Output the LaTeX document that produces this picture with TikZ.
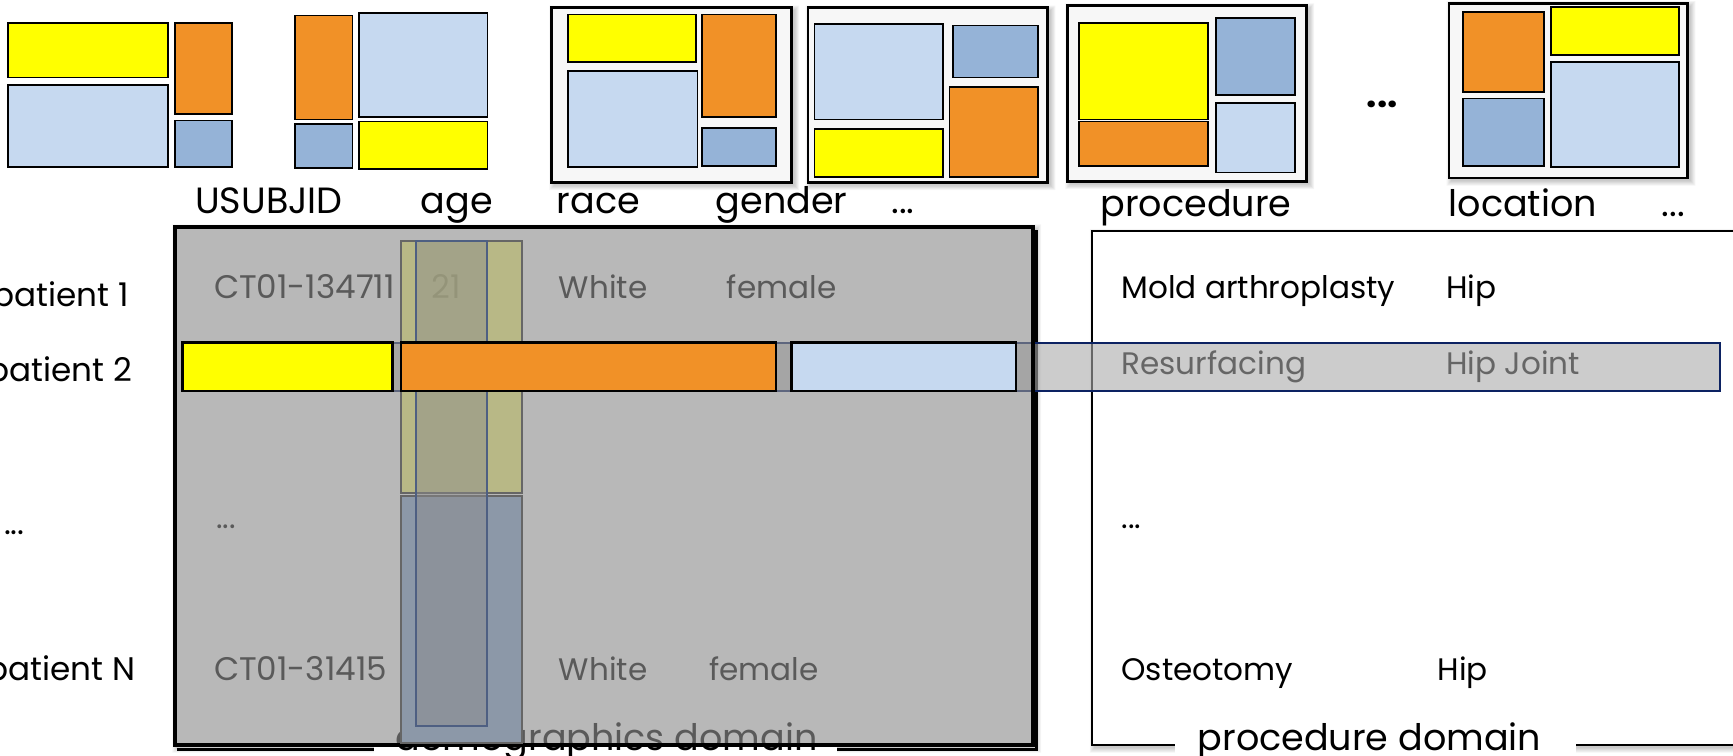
\documentclass[tikz,border=0pt]{standalone}
\usepackage{fontspec}
\setmainfont{Poppins}
\definecolor{cyel}{HTML}{FFFF00}
\definecolor{corg}{HTML}{F19127}
\definecolor{clb}{HTML}{C6D9F0}
\definecolor{cmb}{HTML}{95B3D7}
\definecolor{cnavy}{HTML}{0C2262}
\definecolor{colive}{HTML}{B9B972}
\definecolor{cslate}{HTML}{8C98A8}
\definecolor{cboxg}{HTML}{8F8F8F}
\definecolor{cband}{HTML}{AAAAAA}
\definecolor{cframe}{HTML}{F7F7F7}
\definecolor{cinner}{HTML}{4E5F82}
\newcommand\hdrfont{\fontsize{9.4}{11}\selectfont}
\newcommand\bdyfont{\fontsize{8.0}{10}\selectfont}
\newcommand\idfont{\fontsize{8.4}{10}\selectfont}
\newcommand\softsh[4]{\foreach \k in {0,...,4}{\fill[black,opacity=0.045,even odd rule] ({#1+2-\k},{#2+2-\k}) rectangle ({#3+3+\k},{#4+3+\k}) (#1,#2) rectangle (#3,#4);}}
\begin{document}
\begin{tikzpicture}[x=0.01cm,y=-0.01cm,
 cell/.style={draw=black,line width=0.45pt},
 yel/.style={cell,fill=cyel}, org/.style={cell,fill=corg},
 lb/.style={cell,fill=clb}, mb/.style={cell,fill=cmb},
 iframe/.style={draw=black,line width=0.7pt,fill=cframe},
 hdr/.style={font=\hdrfont,anchor=base west,inner sep=0pt},
 bdy/.style={font=\bdyfont,anchor=base west,inner sep=0pt},
 idtxt/.style={font=\idfont,anchor=base west,inner sep=0pt},
 bar/.style={draw=black,line width=0.6pt}]
\useasboundingbox (0,0) rectangle (1568,684);
\clip (0,0) rectangle (1568,684);
\fill[white] (0,0) rectangle (1568,684);
% icon 1
\draw[yel] (7,21) rectangle (152,70);
\draw[lb] (7,77) rectangle (152,151);
\draw[org] (158,21) rectangle (210,103);
\draw[mb] (158,109) rectangle (210,151);
% icon 2
\draw[org] (267,14) rectangle (319,108);
\draw[lb] (325,12) rectangle (441,106);
\draw[mb] (267,112) rectangle (319,152);
\draw[yel] (325,110) rectangle (441,153);
% icon 3
\softsh{499}{7}{716}{165}
\draw[iframe] (499,7) rectangle (716,165);
\draw[yel] (514,13) rectangle (630,56);
\draw[lb] (514,64) rectangle (631,151);
\draw[org] (635,13) rectangle (702,106);
\draw[mb] (635,116) rectangle (702,150);
% icon 4
\softsh{731}{7}{948}{165}
\draw[iframe] (731,7) rectangle (948,165);
\draw[lb] (737,22) rectangle (853,108);
\draw[mb] (862,23) rectangle (939,70);
\draw[yel] (737,117) rectangle (853,160);
\draw[org] (859,79) rectangle (939,160);
% icon 5
\softsh{966}{5}{1182}{164}
\draw[iframe] (966,5) rectangle (1182,164);
\draw[yel] (976,21) rectangle (1093,108);
\draw[org] (976,110) rectangle (1093,150);
\draw[mb] (1100,16) rectangle (1172,86);
\draw[lb] (1100,93) rectangle (1172,156);
\node (dotsmid) [hdr,font=\hdrfont\bfseries] at (1236,97) {...};
% icon 6
\softsh{1311}{3}{1527}{161}
\draw[iframe] (1311,3) rectangle (1527,161);
\draw[org] (1324,11) rectangle (1397,83);
\draw[yel] (1403,6) rectangle (1519,50);
\draw[lb] (1403,56) rectangle (1519,151);
\draw[mb] (1324,89) rectangle (1397,150);
% header labels
\node (hUSUBJID) [hdr] at (176,193) {USUBJID};
\node (hage) [hdr] at (380,193) {age};
\node (hrace) [hdr] at (503,193) {race};
\node (hgender) [hdr] at (647,193) {gender};
\node (hdots1) [hdr] at (806,193) {...};
\node (hproc) [hdr] at (995,196) {procedure};
\node (hloc) [hdr] at (1310,196) {location};
\node (hdots2) [hdr] at (1503,196) {...};
% left labels
\node (p1) [idtxt,anchor=base east] at (117,277) {patient 1};
\node (p2) [idtxt,anchor=base east] at (120,345) {patient 2};
\node (pdots) [idtxt] at (3,484) {...};
\node (pN) [idtxt,anchor=base east] at (123,616) {patient N};
% procedure box
\softsh{988}{209}{1575}{674}
\draw[line width=0.6pt,fill=white] (988,209) rectangle (1575,674);
\node (pr1a) [bdy] at (1014,270) {Mold arthroplasty};
\node (pr1b) [bdy] at (1308,270) {Hip};
\node (pr2a) [bdy] at (1014,339) {Resurfacing};
\node (pr2b) [bdy] at (1308,339) {Hip Joint};
\node (prdots) [bdy] at (1014,478) {...};
\node (prNa) [bdy] at (1014,616) {Osteotomy};
\node (prNb) [bdy] at (1300,616) {Hip};
% demographics texts
\node (d1a) [idtxt] at (193,270) {CT01-134711};
\node (d1b) [idtxt] at (390,270) {21};
\node (d1c) [bdy] at (505,270) {White};
\node (d1d) [bdy] at (657,270) {female};
\node (ddots) [bdy] at (195,478) {...};
\node (dNa) [idtxt] at (193,616) {CT01-31415};
\node (dNc) [bdy] at (505,616) {White};
\node (dNd) [bdy] at (641,616) {female};
% demographics box shadow
\softsh{158}{205}{935}{674}
\draw[line width=0.8pt] (160,678) -- (938,678) -- (938,208);
\fill[white] (338,640) rectangle (757,690);
\node (demolab) [hdr] at (357,679) {demographics domain};
% patient 2 band
\fill[cband,opacity=0.6] (165,310.5) rectangle (1556.5,353.5);
\draw[cnavy,line width=0.6pt] (165,310.5) rectangle (1556.5,353.5);
% demographics box
\fill[cboxg,opacity=0.63] (158,205) rectangle (935,674);
\draw[line width=1pt] (158,205) rectangle (935,674);
% age columns
\draw[fill=colive,fill opacity=0.7,draw=black!60,line width=0.5pt] (363,218) rectangle (472,446);
\draw[fill=cslate,draw=black!60,line width=0.5pt] (363,449) rectangle (472,672);
\draw[fill=black!45,fill opacity=0.46,draw=cinner,line width=0.5pt] (376,218) rectangle (441,657);
% patient 2 bars
\draw[bar,fill=cyel] (165,310) rectangle (355,354);
\draw[bar,fill=corg] (363,310) rectangle (702,354);
\draw[bar,fill=clb] (716,310) rectangle (919,354);
% procedure label
\fill[white] (1063,650) rectangle (1426,690);
\node (proclab) [hdr] at (1083,679) {procedure domain};
\end{tikzpicture}
\end{document}
